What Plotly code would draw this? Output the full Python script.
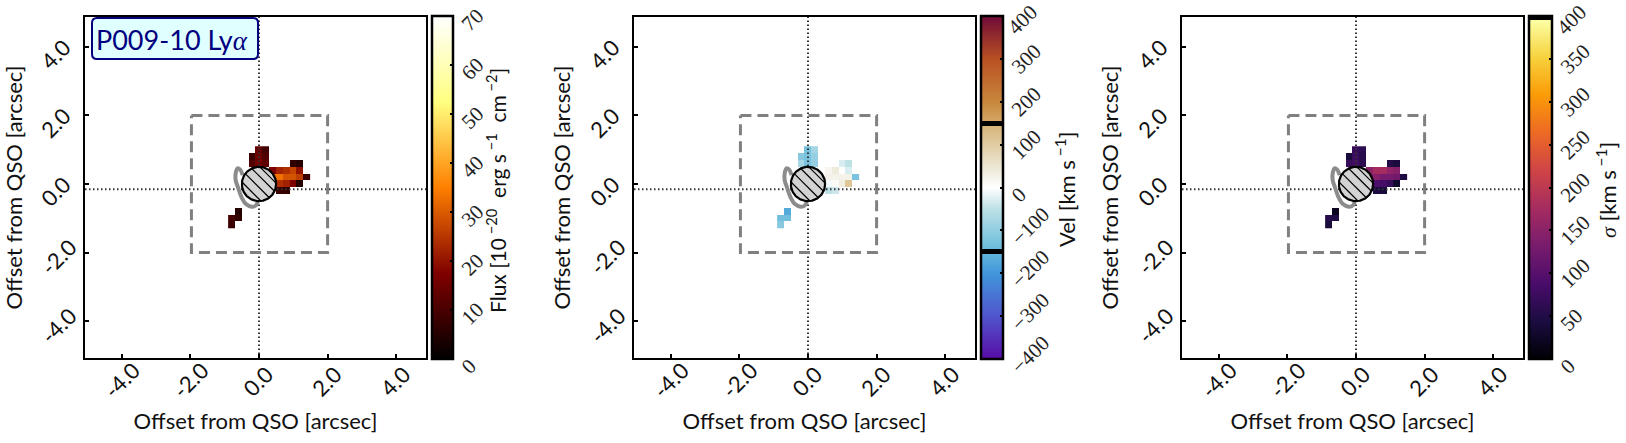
import numpy as np
import plotly.graph_objects as go
from plotly.colors import sequential

W, H = 1626, 443
NB = "\u00a0"
THIN = "\u2009"

# ---- data ----
x_cells = [-0.8, -0.6, -0.4, -0.2, 0.0, 0.2, 0.4, 0.6, 0.8, 1.0, 1.2, 1.4]
y_cells = [1.0, 0.8, 0.6, 0.4, 0.2, 0.0, -0.2, -0.4, -0.6, -0.8, -1.0, -1.2]
N = None
flux = [
    [N, N, N, N, 14, 9, N, N, N, N, N, N],
    [N, N, N, 8, 15, 11, N, N, N, N, N, N],
    [N, N, N, 11, 16, 13, N, N, N, 7, 5, N],
    [N, N, N, N, N, N, 17, 22, 24, 27, 20, N],
    [N, N, N, N, N, N, 32, 33, 29, 29, 26, 8],
    [N, N, N, N, N, N, 22, 24, 22, 17, 5, N],
    [N, N, N, N, N, N, N, 8, 7, N, N, N],
    [N, N, N, N, N, N, N, N, N, N, N, N],
    [N, N, N, N, N, N, N, N, N, N, N, N],
    [N, 5, N, N, N, N, N, N, N, N, N, N],
    [9, 7, N, N, N, N, N, N, N, N, N, N],
    [8, N, N, N, N, N, N, N, N, N, N, N],
]
vel = [
    [N, N, N, N, -130, -80, N, N, N, N, N, N],
    [N, N, N, -110, -125, -95, N, N, N, N, N, N],
    [N, N, N, -75, -125, -95, N, N, N, -30, -50, N],
    [N, N, N, N, N, N, 3, 20, 40, 3, -30, N],
    [N, N, N, N, N, N, 8, 25, 25, 25, 25, -125],
    [N, N, N, N, N, N, -5, -8, 8, 35, 110, N],
    [N, N, N, N, N, N, N, -50, -40, N, N, N],
    [N, N, N, N, N, N, N, N, N, N, N, N],
    [N, N, N, N, N, N, N, N, N, N, N, N],
    [N, -170, N, N, N, N, N, N, N, N, N, N],
    [-135, -135, N, N, N, N, N, N, N, N, N, N],
    [-110, N, N, N, N, N, N, N, N, N, N, N],
]
sigma = [
    [N, N, N, N, 70, 60, N, N, N, N, N, N],
    [N, N, N, 40, 75, 55, N, N, N, N, N, N],
    [N, N, N, 70, 80, 60, N, N, N, 50, 40, N],
    [N, N, N, N, N, N, 150, 175, 175, 155, 145, N],
    [N, N, N, N, N, N, 140, 145, 130, 130, 125, 45],
    [N, N, N, N, N, N, 90, 90, 85, 70, 30, N],
    [N, N, N, N, N, N, N, 45, 40, N, N, N],
    [N, N, N, N, N, N, N, N, N, N, N, N],
    [N, N, N, N, N, N, N, N, N, N, N, N],
    [N, 20, N, N, N, N, N, N, N, N, N, N],
    [55, 50, N, N, N, N, N, N, N, N, N, N],
    [40, N, N, N, N, N, N, N, N, N, N, N],
]
axis_ticks = [-4, -2, 0, 2, 4]
x_tick_labels = ["-4.0", "-2.0", "0.0" + NB, "2.0" + NB, "4.0" + NB]
y_tick_labels = ["-4.0", "-2.0", "0.0" + NB + THIN, "2.0" + NB + THIN, "4.0" + NB + THIN]
flux_ticks = [0, 10, 20, 30, 40, 50, 60, 70]
vel_ticks = [-400, -300, -200, -100, 0, 100, 200, 300, 400]
sigma_ticks = [0, 50, 100, 150, 200, 250, 300, 350, 400]
box_x = [-1.97, 2.0, 2.0, -1.97, -1.97]
box_y = [2.0, 2.0, -2.0, -2.0, 2.0]
contour_x = [-0.477, -0.555, -0.623, -0.671, -0.681, -0.613, -0.516, -0.38, -0.214, -0.088, -0.02]
contour_y = [0.263, 0.428, 0.457, 0.36, 0.117, -0.097, -0.37, -0.584, -0.662, -0.623, -0.467]
hline_y = -0.15
circle_r = 0.5
hatch_offsets = [0.37, 0.17, -0.07, -0.31]
ax_range = [-5.073, 4.869]

afmhot = [[0, "rgb(0,0,0)"], [0.25, "rgb(128,0,0)"], [0.5, "rgb(255,128,0)"],
          [0.75, "rgb(255,255,128)"], [1, "rgb(255,255,255)"]]
vel_scale = [
    [0.0, "rgb(88,12,165)"], [0.125, "rgb(80,85,205)"], [0.25, "rgb(65,150,220)"],
    [0.305, "rgb(95,180,220)"], [0.3051, "black"], [0.32, "black"], [0.3201, "rgb(105,188,220)"],
    [0.4375, "rgb(190,225,230)"], [0.5, "rgb(255,255,255)"], [0.5625, "rgb(235,230,210)"],
    [0.68, "rgb(215,180,120)"], [0.6801, "black"], [0.695, "black"], [0.6951, "rgb(212,165,100)"],
    [0.75, "rgb(200,135,60)"], [0.875, "rgb(185,80,35)"], [1.0, "rgb(110,10,55)"],
]
inf = sequential.Inferno
sigma_scale = [[i / (len(inf) - 1) * 0.988, c] for i, c in enumerate(inf)] + [[0.9881, "black"], [1, "black"]]

# ---- layout geometry ----
TOP, BOT = 17, 358
panels = [(85, 426), (634, 975), (1182, 1523)]
cbars = [(432, 453), (981, 1003), (1529, 1552)]
cb_titles = [f"Flux{NB}[10<sup>{NB}−20</sup>{NB*2}erg{NB}s<sup>{NB}−1</sup>{NB*2}cm<sup>{NB}−2</sup>]",
             f"Vel{NB}[km{NB}s<sup>{NB}−1</sup>]",
             f"<span style=\"font-family:'Liberation Serif'\"><i>σ</i></span>{NB}[km{NB}s<sup>{NB}−1</sup>]"]
cb_title_x = [496, 1065, 1606]
cb_title_size = [21, 22, 22]
SANS = "Lato"
SERIF = "Liberation Serif"

fig = go.Figure()
specs = [(flux, afmhot, 0, 70, flux_ticks), (vel, vel_scale, -400, 400, vel_ticks),
         (sigma, sigma_scale, 0, 400, sigma_ticks)]
th = np.linspace(0, 2 * np.pi, 181)
dot = dict(color="#333333", width=2, dash="1.5px,2.5px")
for i, (z, cs, zmin, zmax, ticks) in enumerate(specs):
    ax = "" if i == 0 else str(i + 1)
    xa, ya = "x" + ax, "y" + ax
    fig.add_trace(go.Heatmap(
        x=x_cells, y=y_cells, z=z, colorscale=cs, zmin=zmin, zmax=zmax * 1.0005 if zmin == 0 else zmax + 0.2,
        xaxis=xa, yaxis=ya,
        colorbar=dict(
            x=cbars[i][0] / W, xanchor="left", xpad=0, ypad=0,
            y=1 - 359 / H, yanchor="bottom", lenmode="pixels", len=343,
            thicknessmode="pixels", thickness=cbars[i][1] - cbars[i][0],
            outlinewidth=2.5, outlinecolor="black", borderwidth=0,
            ticks="inside", ticklen=4, tickwidth=1.5, tickcolor="black",
            tickmode="array", tickvals=ticks,
            ticktext=[(NB if t != 400 else "") + str(t).replace("-", "−") for t in ticks],
            ticklabelposition="outside bottom",
            tickangle=-45, tickfont=dict(family=SERIF, size=21, color="#222222"),
        ),
    ))
    fig.add_trace(go.Scatter(x=ax_range, y=[hline_y, hline_y], mode="lines", xaxis=xa, yaxis=ya,
                             line=dot, showlegend=False))
    fig.add_trace(go.Scatter(x=[0, 0], y=ax_range, mode="lines", xaxis=xa, yaxis=ya,
                             line=dot, showlegend=False))
    fig.add_trace(go.Scatter(x=box_x, y=box_y, mode="lines", xaxis=xa, yaxis=ya,
                             line=dict(color="#808080", width=3, dash="11px,6px"), showlegend=False))
    fig.add_trace(go.Scatter(x=contour_x, y=contour_y, mode="lines", xaxis=xa, yaxis=ya,
                             line=dict(color="#8c8c8c", width=4, shape="spline"), showlegend=False))
    fig.add_trace(go.Scatter(x=circle_r * np.cos(th), y=circle_r * np.sin(th), mode="lines", fill="toself",
                             fillcolor="#d3d3d3", xaxis=xa, yaxis=ya,
                             line=dict(color="black", width=2.2), showlegend=False))
    hx, hy = [], []
    for d in hatch_offsets:
        half = np.sqrt(circle_r ** 2 - d ** 2)
        cx, cy = d / np.sqrt(2), d / np.sqrt(2)
        ux, uy = 1 / np.sqrt(2), -1 / np.sqrt(2)
        hx += [cx - half * ux, cx + half * ux, None]
        hy += [cy - half * uy, cy + half * uy, None]
    fig.add_trace(go.Scatter(x=hx, y=hy, mode="lines", xaxis=xa, yaxis=ya,
                             line=dict(color="black", width=1.2), showlegend=False))

    common = dict(range=ax_range, showgrid=False, zeroline=False, showline=True, mirror=True,
                  linecolor="black", linewidth=2.2, ticks="inside", ticklen=4, tickwidth=1.5,
                  tickcolor="black", tickmode="array", tickvals=axis_ticks,
                  tickangle=-45, tickfont=dict(family=SANS, size=22, color="#111111"))
    fig.update_layout({
        "xaxis" + ax: dict(common, domain=[panels[i][0] / W, panels[i][1] / W], anchor=ya,
                           ticktext=x_tick_labels, ticklabelstandoff=-11, ticklabelshift=12,
                           title=dict(text="Offset from QSO [arcsec]", standoff=11,
                                      font=dict(family=SANS, size=22, color="#111111"))),
        "yaxis" + ax: dict(common, domain=[1 - BOT / H, 1 - TOP / H], anchor=xa,
                           ticktext=y_tick_labels, ticklabelstandoff=8, ticklabelshift=-8,
                           title=dict(text="Offset from QSO [arcsec]", standoff=7,
                                      font=dict(family=SANS, size=22, color="#111111"))),
    })
    fig.add_annotation(text=cb_titles[i], xref="paper", yref="paper", x=cb_title_x[i] / W, y=1 - 190 / H,
                       textangle=-90, showarrow=False, xanchor="center", yanchor="middle",
                       font=dict(family=SANS, size=cb_title_size[i], color="#111111"))

# label box
bx0, bx1, by0, by1, r = 92 / W, 258 / W, 1 - 59 / H, 1 - 18 / H, 5
rx, ry = r / W, r / H
fig.add_shape(type="path", xref="paper", yref="paper", fillcolor="#e0ffff", line=dict(color="#000080", width=2),
              path=(f"M {bx0+rx} {by0} L {bx1-rx} {by0} Q {bx1} {by0} {bx1} {by0+ry} L {bx1} {by1-ry} "
                    f"Q {bx1} {by1} {bx1-rx} {by1} L {bx0+rx} {by1} Q {bx0} {by1} {bx0} {by1-ry} "
                    f"L {bx0} {by0+ry} Q {bx0} {by0} {bx0+rx} {by0} Z"))
fig.add_annotation(text="P009-10 Ly<span style=\"font-family:'Liberation Serif'\"><i>α</i></span>",
                   xref="paper", yref="paper", x=172 / W, y=1 - 39 / H, showarrow=False,
                   xanchor="center", yanchor="middle", font=dict(family=SANS, size=27, color="#000080"))

fig.update_layout(width=W, height=H, autosize=False, margin=dict(l=0, r=0, t=0, b=0),
                  paper_bgcolor="white", plot_bgcolor="white", showlegend=False)
fig.write_html("out.html", config=dict(displayModeBar=False),
               post_script="document.body.style.margin='0';document.documentElement.style.overflow='hidden';")
